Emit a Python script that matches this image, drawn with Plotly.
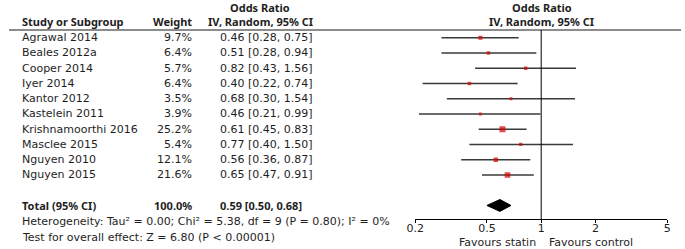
import math
import plotly.graph_objects as go

studies = ["Agrawal 2014", "Beales 2012a", "Cooper 2014", "Iyer 2014", "Kantor 2012",
           "Kastelein 2011", "Krishnamoorthi 2016", "Masclee 2015", "Nguyen 2010", "Nguyen 2015"]
weights = [9.7, 6.4, 5.7, 6.4, 3.5, 3.9, 25.2, 5.4, 12.1, 21.6]
or_vals = [0.46, 0.51, 0.82, 0.40, 0.68, 0.46, 0.61, 0.77, 0.56, 0.65]
ci_lo = [0.28, 0.28, 0.43, 0.22, 0.30, 0.21, 0.45, 0.40, 0.36, 0.47]
ci_hi = [0.75, 0.94, 1.56, 0.74, 1.54, 0.99, 0.83, 1.50, 0.87, 0.91]
total_label = "Total (95% CI)"
total_weight = 100.0
total_or = 0.59
total_lo = 0.50
total_hi = 0.68
null_value = 1
tick_vals = [0.2, 0.5, 1, 2, 5]
tick_text = ["0.2", "0.5", "1", "2", "5"]
heterogeneity = "Heterogeneity: Tau² = 0.00; Chi² = 5.38, df = 9 (P = 0.80); I² = 0%"
overall = "Test for overall effect: Z = 6.80 (P < 0.00001)"
favours_left = "Favours statin"
favours_right = "Favours control"

W, H = 685, 249
FONT = "DejaVu Sans"
BFONT = "Noto Sans"
TXT = "#1e1e1e"
FS = 11

# pixel helpers (layout only)
def px_x(p):
    return p / W

def px_y(p):
    return (H - p) / H

row0 = 37.7
row_h = 15.25
axis_px = 219
y_top = -row0 / row_h
y_bot = (axis_px - row0) / row_h
total_row = len(studies) + 1

fig = go.Figure()

# CI lines
lx, ly = [], []
for i, (lo, hi) in enumerate(zip(ci_lo, ci_hi)):
    lx += [lo, hi, None]
    ly += [i, i, None]
fig.add_trace(go.Scatter(x=lx, y=ly, mode="lines", line=dict(color="#3a3a3a", width=1.4),
                         hoverinfo="skip", showlegend=False))
# point estimates
fig.add_trace(go.Scatter(x=or_vals, y=list(range(len(studies))), mode="markers",
                         marker=dict(symbol="square", color="#d40000",
                                     size=[math.sqrt(w) + 1.0 for w in weights],
                                     line=dict(width=0)),
                         showlegend=False))
# diamond
dh = 0.39
fig.add_trace(go.Scatter(x=[total_lo, total_or, total_hi, total_or, total_lo],
                         y=[total_row, total_row - dh, total_row, total_row + dh, total_row],
                         mode="lines", fill="toself", fillcolor="black",
                         line=dict(color="black", width=1), showlegend=False))

fig.update_xaxes(type="log", range=[math.log10(0.2), math.log10(5)],
                 domain=[px_x(414), px_x(671)], tickvals=tick_vals, ticktext=tick_text,
                 showgrid=False, zeroline=False, showline=True, linecolor="black", linewidth=1,
                 ticks="outside", ticklen=3, tickcolor="black", ticklabelstandoff=-4,
                 tickfont=dict(family=FONT, size=FS, color=TXT))
fig.update_yaxes(range=[y_bot, y_top], domain=[px_y(axis_px), 1], visible=False,
                 showgrid=False, zeroline=False)

shapes = [
    dict(type="line", xref="paper", yref="paper", x0=0, x1=1, y0=px_y(30), y1=px_y(30),
         line=dict(color="#666666", width=1.5)),
    dict(type="line", xref="x", yref="paper", x0=null_value, x1=null_value,
         y0=px_y(axis_px), y1=px_y(30), line=dict(color="black", width=1)),
]

ann = []
def A(text, x, y, xanchor="left", yref="y", bold=False, size=FS, xref="paper", xshift=0):
    ann.append(dict(text=f"<b>{text}</b>" if bold else text, x=x, y=y, xref=xref, yref=yref,
                    xanchor=xanchor, yanchor="middle", showarrow=False, xshift=xshift,
                    font=dict(family=BFONT if bold else FONT, size=size, color=TXT)))

# headers
A("Study or Subgroup", px_x(11), px_y(22), yref="paper", bold=True)
A("Weight", px_x(189), px_y(22), xanchor="right", yref="paper", bold=True)
A("Odds Ratio", px_x(256), px_y(8), xanchor="center", yref="paper", bold=True)
A("IV, Random, 95% CI", px_x(256), px_y(22), xanchor="center", yref="paper", bold=True)
A("Odds Ratio", px_x(543), px_y(8), xanchor="center", yref="paper", bold=True)
A("IV, Random, 95% CI", px_x(543), px_y(22), xanchor="center", yref="paper", bold=True)

for i, s in enumerate(studies):
    A(s, px_x(11), i)
    A(f"{weights[i]:.1f}%", px_x(189), i, xanchor="right")
    A(f"{or_vals[i]:.2f} [{ci_lo[i]:.2f}, {ci_hi[i]:.2f}]", px_x(213), i)

A(total_label, px_x(11), total_row, bold=True)
A(f"{total_weight:.1f}%", px_x(189), total_row, xanchor="right", bold=True)
A(f"{total_or:.2f} [{total_lo:.2f}, {total_hi:.2f}]", px_x(213), total_row, bold=True)
A(heterogeneity, px_x(11), px_y(221), yref="paper")
A(overall, px_x(11), px_y(237), yref="paper")
# annotations on a log axis take log10 positions
A(favours_left, math.log10(null_value), px_y(242), xanchor="right", yref="paper", xref="x", xshift=-3)
A(favours_right, math.log10(null_value), px_y(242), xanchor="left", yref="paper", xref="x", xshift=6)

fig.update_layout(width=W, height=H, margin=dict(l=0, r=0, t=0, b=0),
                  plot_bgcolor="white", paper_bgcolor="white",
                  shapes=shapes, annotations=ann, showlegend=False)

fig.write_html("out.html", config={"displayModeBar": False},
               post_script="document.body.style.margin='0';document.body.style.overflow='hidden';")
